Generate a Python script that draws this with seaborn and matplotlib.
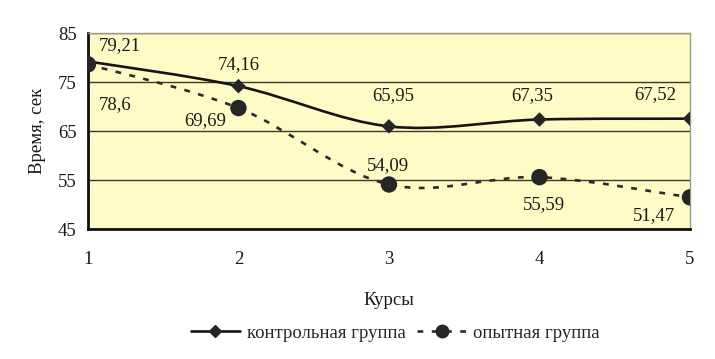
import numpy as np
import pandas as pd
import matplotlib
matplotlib.use("Agg")
import matplotlib.pyplot as plt
from matplotlib.path import Path
from matplotlib.patches import PathPatch
from matplotlib.lines import Line2D
import seaborn as sns

courses = [1, 2, 3, 4, 5]
control = [79.21, 74.16, 65.95, 67.35, 67.52]
experimental = [78.6, 69.69, 54.09, 55.59, 51.47]
control_name = "контрольная группа"
exp_name = "опытная группа"
y_ticks = [45, 55, 65, 75, 85]

sns.set_style("white")
plt.rcParams["font.family"] = ["Liberation Serif", "DejaVu Serif"]
FS = 13.5

df = pd.DataFrame({
    "course": courses * 2,
    "value": control + experimental,
    "group": [control_name] * 5 + [exp_name] * 5,
})

fig = plt.figure(figsize=(7.15, 3.59), dpi=100)
ax = fig.add_axes([0.123, 0.362, 0.842, 0.546])
ax.set_facecolor("#fdfcc6")


def smooth_path(xs, ys):
    pts = np.column_stack([xs, ys]).astype(float)
    n = len(pts)
    verts = [pts[0]]
    codes = [Path.MOVETO]
    for i in range(n - 1):
        p0 = pts[i - 1] if i > 0 else pts[i]
        p1 = pts[i]
        p2 = pts[i + 1]
        p3 = pts[i + 2] if i + 2 < n else pts[i + 1]
        c1 = p1 + (p2 - p0) / 6.0
        c2 = p2 - (p3 - p1) / 6.0
        verts += [c1, c2, p2]
        codes += [Path.CURVE4] * 3
    return Path(verts, codes)


ax.add_patch(PathPatch(smooth_path(courses, control), fill=False,
                       edgecolor="#141414", lw=1.9, zorder=3))
ax.add_patch(PathPatch(smooth_path(courses, experimental), fill=False,
                       edgecolor="#2a2a2a", lw=1.9, linestyle=(0, (2.2, 3.2)),
                       zorder=3))

sns.scatterplot(data=df, x="course", y="value", style="group",
                markers={control_name: "D", exp_name: "o"},
                size="group", sizes={control_name: 55, exp_name: 140},
                color="#262626", edgecolor="#262626", linewidth=0,
                legend=False, ax=ax, zorder=4)

for yv in y_ticks[1:]:
    ax.axhline(yv, color="#3a3a2a", lw=1.0, zorder=1)

ax.set_xlim(1, 5)
ax.set_ylim(45, 85)
ax.set_xticks(courses)
ax.set_yticks(y_ticks)
ax.tick_params(axis="both", direction="out", length=5, width=1.5,
               labelsize=FS, colors="#1a1a1a", pad=3)
ax.tick_params(axis="x", pad=11)
for s in ["left", "bottom"]:
    ax.spines[s].set_color("#111111")
    ax.spines[s].set_linewidth(2.0)
for s in ["top", "right"]:
    ax.spines[s].set_color("#9a9a8a")
    ax.spines[s].set_linewidth(1.0)

ax.set_xlabel("Курсы", fontsize=FS, labelpad=17, color="#1a1a1a")
ax.set_ylabel("Время, сек", fontsize=FS, labelpad=9, color="#1a1a1a")

fmt = lambda v: ("%g" % v).replace(".", ",")
ctrl_off = [(0.07, 3.3, "left"), (0, 4.3, "center"), (0.03, 6.3, "center"),
            (-0.05, 4.9, "center"), (-0.09, 4.9, "right")]
exp_off = [(0.07, -8.2, "left"), (-0.22, -2.6, "center"), (-0.01, 3.8, "center"),
           (0.03, -5.5, "center"), (-0.1, -3.7, "right")]
for x, v, (dx, dy, ha) in zip(courses, control, ctrl_off):
    ax.text(x + dx, v + dy, fmt(v), ha=ha, va="center", fontsize=FS,
            color="#1a1a1a", zorder=5)
for x, v, (dx, dy, ha) in zip(courses, experimental, exp_off):
    ax.text(x + dx, v + dy, fmt(v), ha=ha, va="center", fontsize=FS,
            color="#1a1a1a", zorder=5)

handles = [
    Line2D([], [], color="#141414", lw=1.9, marker="D", markersize=6,
           markerfacecolor="#262626", markeredgecolor="#262626"),
    Line2D([], [], color="#2a2a2a", lw=1.9, linestyle=(0, (2.2, 3.2)),
           marker="o", markersize=9, markerfacecolor="#262626",
           markeredgecolor="#262626"),
]
fig.legend(handles, [control_name, exp_name], loc="center",
           bbox_to_anchor=(0.553, 0.072), ncol=2, frameon=False,
           fontsize=FS, handlelength=2.6, columnspacing=0.6,
           handletextpad=0.4)

fig.savefig("out.png", dpi=100)
